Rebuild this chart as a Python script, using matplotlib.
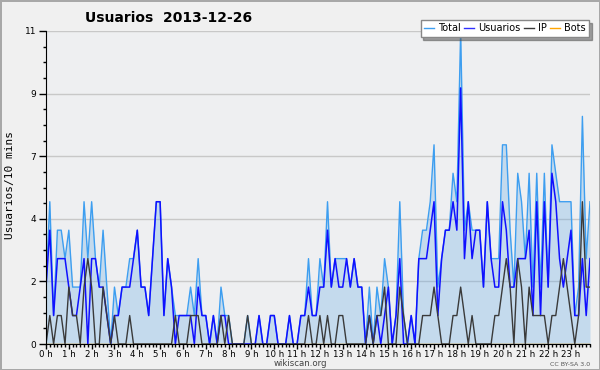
import numpy as np
import matplotlib.pyplot as plt
from matplotlib.lines import Line2D

# valores por intervalo de 10 min (144 pontos)
total = [2, 5, 1, 4, 4, 3, 4, 2, 2, 2, 5, 3, 5, 3, 2, 4, 2, 0, 2, 1, 2, 2, 3, 3,
         4, 2, 2, 1, 3, 5, 5, 1, 3, 2, 1, 1, 1, 1, 2, 1, 3, 1, 1, 0, 1, 0, 2, 1,
         1, 0, 0, 0, 0, 1, 0, 0, 1, 0, 0, 1, 1, 0, 0, 0, 1, 0, 0, 1, 1, 3, 1, 1,
         3, 2, 5, 2, 3, 3, 3, 3, 2, 3, 2, 2, 0, 2, 0, 2, 1, 3, 2, 0, 1, 5, 1, 0,
         1, 0, 3, 4, 4, 5, 7, 2, 3, 4, 4, 6, 5, 11, 4, 5, 4, 4, 4, 2, 5, 3, 3, 3,
         7, 7, 4, 2, 6, 5, 3, 6, 2, 6, 2, 6, 2, 7, 6, 5, 5, 5, 5, 1, 2, 8, 3, 5]
usuarios = [2, 4, 1, 3, 3, 3, 2, 1, 1, 2, 3, 0, 3, 3, 2, 2, 1, 0, 1, 1, 2, 2, 2, 3,
            4, 2, 2, 1, 3, 5, 5, 1, 3, 2, 0, 1, 1, 1, 1, 0, 2, 1, 1, 0, 1, 0, 1, 1,
            0, 0, 0, 0, 0, 0, 0, 0, 1, 0, 0, 1, 1, 0, 0, 0, 1, 0, 0, 1, 1, 2, 1, 1,
            2, 2, 4, 2, 3, 2, 2, 3, 2, 3, 2, 2, 0, 1, 0, 1, 0, 1, 2, 0, 1, 3, 0, 0,
            1, 0, 3, 3, 3, 4, 5, 1, 3, 4, 4, 5, 4, 9, 3, 5, 3, 4, 4, 2, 5, 3, 2, 2,
            5, 4, 2, 2, 3, 3, 3, 4, 1, 5, 1, 5, 2, 6, 5, 3, 2, 3, 4, 1, 1, 3, 1, 3]
ip = [0, 1, 0, 1, 1, 0, 2, 1, 1, 0, 2, 3, 2, 0, 0, 2, 1, 0, 1, 0, 0, 0, 1, 0,
      0, 0, 0, 0, 0, 0, 0, 0, 0, 0, 1, 0, 0, 0, 1, 1, 1, 0, 0, 0, 0, 0, 1, 0,
      1, 0, 0, 0, 0, 1, 0, 0, 0, 0, 0, 0, 0, 0, 0, 0, 0, 0, 0, 0, 0, 1, 0, 0,
      1, 0, 1, 0, 0, 1, 1, 0, 0, 0, 0, 0, 0, 1, 0, 1, 1, 2, 0, 0, 0, 2, 1, 0,
      0, 0, 0, 1, 1, 1, 2, 1, 0, 0, 0, 1, 1, 2, 1, 0, 1, 0, 0, 0, 0, 0, 1, 1,
      2, 3, 2, 0, 3, 2, 0, 2, 1, 1, 1, 1, 0, 1, 1, 2, 3, 2, 1, 0, 1, 5, 2, 2]
bots = [0] * 144

horas = [f'{h} h' for h in range(24)]
yticks = [0, 2.2, 4.4, 6.6, 8.8, 11]
ylabels = ['0', '2', '4', '7', '9', '11']

tempo = np.arange(len(total))

fig = plt.figure(figsize=(6, 3.7), dpi=100, facecolor='#f0f0f0',
                 edgecolor='#a8a8a8', linewidth=2)
ax = fig.add_axes([46/600, 26/370, 544/600, 313/370])
ax.set_facecolor('#eeeff1')

ax.fill_between(tempo, total, color='#64aae6', alpha=0.3, lw=0)
ax.plot(tempo, bots, color='#ffa500', lw=1, zorder=1)
ax.plot(tempo, total, color='#3d9ef0', lw=1)
ax.plot(tempo, usuarios, color='#1010ff', lw=1.1)
ax.plot(tempo, ip, color='#3a3a3a', lw=1)

ax.set_xlim(0, 143)
ax.set_ylim(0, 11)
ax.set_xticks(np.arange(0, 144, 6))
ax.set_xticklabels(horas)
ax.set_xticks(np.arange(0, 144, 1), minor=True)
ax.set_yticks(yticks)
ax.set_yticklabels(ylabels)
ax.set_yticks(np.arange(0, 11.01, 0.55), minor=True)
ax.tick_params(axis='x', which='major', length=3.5, width=1, labelsize=6.2, pad=0.5)
ax.tick_params(axis='y', which='major', length=5, width=1, labelsize=6.5, pad=2)
ax.tick_params(axis='both', which='minor', length=2.5, width=1)
ax.spines['top'].set_visible(False)
ax.spines['right'].set_visible(False)
ax.yaxis.grid(True, color='#c8c8c8', lw=1)
ax.set_axisbelow(True)

fig.text(85/600, 1 - 18/370, 'Usuarios  2013-12-26', fontsize=10,
         fontweight='bold', ha='left', va='center')
fig.text(10/600, 0.5, 'Usuarios/10 mins', rotation=90, ha='center', va='center',
         family='DejaVu Sans Mono', fontsize=8)
fig.text(0.5, 1 - 364/370, 'wikiscan.org', ha='center', va='center',
         fontsize=6.2, color='#444444')
fig.text(590/600, 1 - 364/370, 'CC BY-SA 3.0', ha='right', va='center',
         fontsize=4.5, color='#555555')

handles = [Line2D([], [], color='#3d9ef0', lw=1),
           Line2D([], [], color='#3030ff', lw=1),
           Line2D([], [], color='#3a3a3a', lw=1),
           Line2D([], [], color='#ffa500', lw=1)]
leg = fig.legend(handles, ['Total', 'Usuarios', 'IP', 'Bots'], ncol=4,
                 loc='upper right', bbox_to_anchor=(589/600, 1 - 20/370),
                 fontsize=7, frameon=True, fancybox=False, shadow=True,
                 handlelength=1.0, handletextpad=0.4, columnspacing=0.4,
                 borderpad=0.35, borderaxespad=0)
leg.get_frame().set_edgecolor('#888888')
leg.get_frame().set_facecolor('white')

plt.savefig('out.png', dpi=100)
plt.close()
